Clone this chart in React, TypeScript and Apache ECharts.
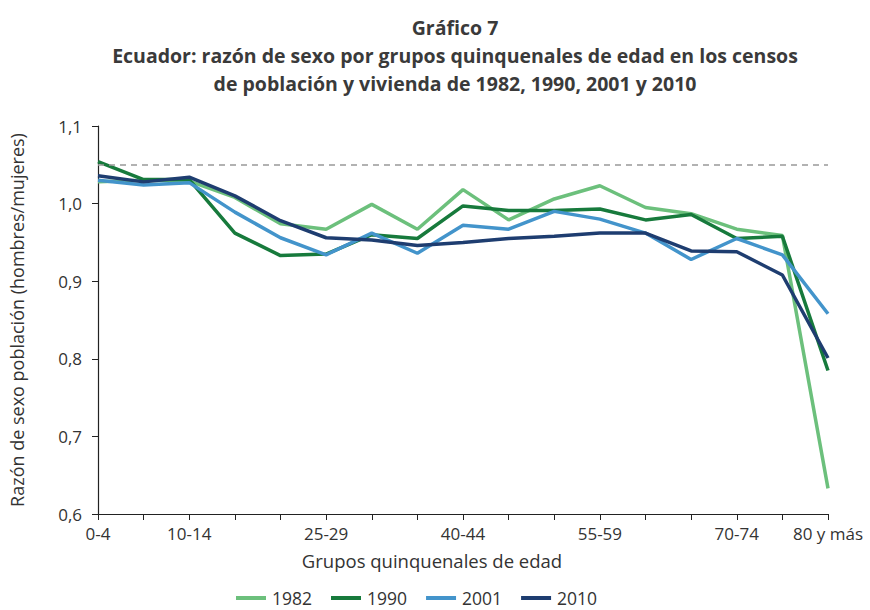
import React, { useEffect, useRef } from "react";
import * as echarts from "echarts";

const categories = ["0-4", "5-9", "10-14", "15-19", "20-24", "25-29", "30-34", "35-39", "40-44", "45-49", "50-54", "55-59", "60-64", "65-69", "70-74", "75-79", "80 y más"];
const shownLabels = [0, 2, 5, 8, 11, 14, 16];
const s1982 = [1.028, 1.030, 1.029, 1.008, 0.974, 0.967, 0.999, 0.967, 1.018, 0.979, 1.006, 1.023, 0.995, 0.987, 0.967, 0.959, 0.633];
const s1990 = [1.054, 1.031, 1.031, 0.962, 0.933, 0.935, 0.960, 0.955, 0.997, 0.991, 0.991, 0.993, 0.979, 0.986, 0.955, 0.958, 0.785];
const s2001 = [1.030, 1.024, 1.027, 0.989, 0.956, 0.934, 0.962, 0.936, 0.972, 0.967, 0.990, 0.980, 0.962, 0.928, 0.955, 0.934, 0.858];
const s2010 = [1.036, 1.028, 1.034, 1.010, 0.978, 0.956, 0.953, 0.946, 0.950, 0.955, 0.958, 0.962, 0.962, 0.939, 0.938, 0.908, 0.801];
const refValue = 1.05;

const FONT = "'Open Sans', 'Noto Sans', sans-serif";

export default function App() {
  const ref = useRef<HTMLDivElement>(null);
  useEffect(() => {
    if (!ref.current) return;
    const chart = echarts.init(ref.current, null, { renderer: "svg" });
    const mk = (name: string, data: number[], color: string, extra: any = {}) => ({
      name,
      type: "line",
      data,
      symbol: "none",
      lineStyle: { color, width: 3.5 },
      itemStyle: { color },
      z: 3,
      ...extra,
    });
    chart.setOption({
      animation: false,
      textStyle: { fontFamily: FONT },
      title: {
        text: "Gráfico 7\nEcuador: razón de sexo por grupos quinquenales de edad en los censos\nde población y vivienda de 1982, 1990, 2001 y 2010",
        left: 450,
        textAlign: "center",
        top: 8,
        textStyle: { fontFamily: FONT, fontSize: 19.5, fontWeight: "bold", color: "#3a3a3a", lineHeight: 28 },
      },
      graphic: [
        {
          type: "text",
          x: 432,
          y: 560,
          style: {
            text: "Grupos quinquenales de edad",
            font: "18.5px 'Open Sans', sans-serif",
            fill: "#333",
            textAlign: "center",
            textVerticalAlign: "middle",
          },
        },
      ],
      grid: { left: 94, right: 42, top: 126, bottom: 96, containLabel: false },
      legend: {
        top: 584,
        left: 231,
        padding: 5,
        itemWidth: 30,
        itemHeight: 4,
        itemGap: 19,
        icon: "rect",
        textStyle: { fontFamily: FONT, fontSize: 17.5, color: "#333", padding: [0, 0, 0, 1] },
        data: ["1982", "1990", "2001", "2010"],
      },
      xAxis: {
        type: "category",
        data: categories,
        boundaryGap: false,
        axisLine: { lineStyle: { color: "#222", width: 1.2 } },
        axisTick: { show: true, interval: 0, length: 6, lineStyle: { color: "#222" } },
        axisLabel: {
          interval: (i: number) => shownLabels.includes(i),
          fontFamily: FONT,
          fontSize: 17,
          color: "#333",
          margin: 11,
        },
      },
      yAxis: {
        type: "value",
        min: 0.6,
        max: 1.1,
        interval: 0.1,
        name: "Razón de sexo población (hombres/mujeres)",
        nameLocation: "middle",
        nameGap: 72,
        nameTextStyle: { fontFamily: FONT, fontSize: 18, color: "#333" },
        axisLine: { show: true, lineStyle: { color: "#222", width: 1.2 } },
        axisTick: { show: true, length: 6, lineStyle: { color: "#222" } },
        splitLine: { show: false },
        axisLabel: {
          fontFamily: FONT,
          fontSize: 17,
          color: "#333",
          margin: 16,
          formatter: (v: number) => v.toFixed(1).replace(".", ","),
        },
      },
      series: [
        mk("1982", s1982, "#6cc07c", {
          markLine: {
            silent: true,
            symbol: "none",
            label: { show: false },
            lineStyle: { color: "#999", type: [6, 5], width: 1.5 },
            data: [{ yAxis: refValue }],
          },
        }),
        mk("1990", s1990, "#177a3c"),
        mk("2001", s2001, "#4394cb"),
        mk("2010", s2010, "#1e3d70"),
      ],
    });
    return () => chart.dispose();
  }, []);
  return <div ref={ref} style={{ width: 870, height: 610, position: "absolute", left: 0, top: 0 }} />;
}
